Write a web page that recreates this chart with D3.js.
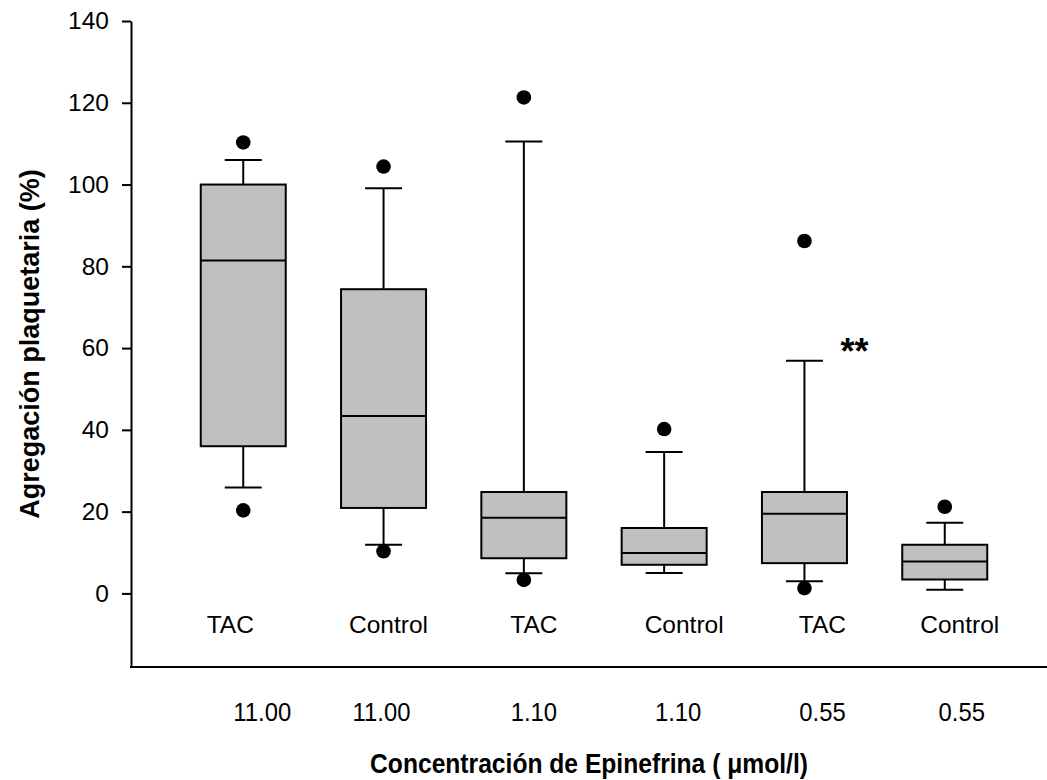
<!DOCTYPE html>
<html>
<head>
<meta charset="utf-8">
<script src="https://cdn.jsdelivr.net/npm/d3@7"></script>
<style>
  body { margin: 0; background: #fff; }
  svg text { font-family: "Liberation Sans", Arial, sans-serif; fill: #000; }
</style>
</head>
<body>
<script>
const width = 1047;
const height = 780;

// groups, left to right
const groups = ["TAC", "Control", "TAC", "Control", "TAC", "Control"];
const doses = ["11.00", "11.00", "1.10", "1.10", "0.55", "0.55"];

// box statistics (%)
const whiskerLow = [25.9, 11.9, 4.9, 5.0, 3.0, 0.9];
const q1 = [36.0, 20.9, 8.6, 7.0, 7.4, 3.4];
const median = [81.4, 43.4, 18.5, 9.9, 19.5, 7.8];
const q3 = [100.0, 74.4, 24.8, 16.0, 24.8, 11.9];
const whiskerHigh = [106.0, 99.1, 110.5, 34.6, 56.9, 17.3];
const outliersLow = [20.3, 10.3, 3.3, null, 1.3, null];
const outliersHigh = [110.3, 104.4, 121.3, 40.2, 86.2, 21.2];

const yTicks = [0, 20, 40, 60, 80, 100, 120, 140];

// small manual nudges of the text labels, as in the original figure
const groupNudge = [-13, 5, 10, 20, 18, 15];
const doseNudge = [19, -2, 10, 14, 18, 17];

const plotLeft = 131, plotTop = 21, plotBottom = 667;

let svg = d3.select("body")
    .append("svg")
    .attr("width", width)
    .attr("height", height);

let x = d3.scalePoint()
    .domain(d3.range(groups.length))
    .range([plotLeft, 1057])
    .padding(0.8);

let y = d3.scaleLinear()
    .domain([-18, 140])
    .range([plotBottom, plotTop]);

const boxW = 85;
const capW = 37;

// y axis
let yAxis = svg.append("g")
    .attr("transform", `translate(${plotLeft},0)`)
    .call(d3.axisLeft(y).tickValues(yTicks).tickSize(9).tickPadding(13).tickSizeOuter(0));
yAxis.select(".domain").attr("stroke-width", 2);
yAxis.selectAll(".tick line").attr("stroke-width", 2);
yAxis.selectAll("text").style("font-size", "24.5px");

// x axis line only
svg.append("line")
    .attr("x1", plotLeft - 1).attr("x2", width)
    .attr("y1", plotBottom).attr("y2", plotBottom)
    .attr("stroke", "#000").attr("stroke-width", 2);

let data = groups.map((g, i) => ({
    i: i,
    lo: whiskerLow[i], q1: q1[i], med: median[i], q3: q3[i], hi: whiskerHigh[i],
    oLo: outliersLow[i], oHi: outliersHigh[i]
}));

let box = svg.selectAll("g.box")
    .data(data)
    .join("g")
    .attr("class", "box");

// whiskers
box.append("line")
    .attr("x1", d => x(d.i)).attr("x2", d => x(d.i))
    .attr("y1", d => y(d.q3)).attr("y2", d => y(d.hi))
    .attr("stroke", "#000").attr("stroke-width", 2);
box.append("line")
    .attr("x1", d => x(d.i)).attr("x2", d => x(d.i))
    .attr("y1", d => y(d.q1)).attr("y2", d => y(d.lo))
    .attr("stroke", "#000").attr("stroke-width", 2);
box.append("line")
    .attr("x1", d => x(d.i) - capW / 2).attr("x2", d => x(d.i) + capW / 2)
    .attr("y1", d => y(d.hi)).attr("y2", d => y(d.hi))
    .attr("stroke", "#000").attr("stroke-width", 2);
box.append("line")
    .attr("x1", d => x(d.i) - capW / 2).attr("x2", d => x(d.i) + capW / 2)
    .attr("y1", d => y(d.lo)).attr("y2", d => y(d.lo))
    .attr("stroke", "#000").attr("stroke-width", 2);

// boxes
box.append("rect")
    .attr("x", d => x(d.i) - boxW / 2)
    .attr("width", boxW)
    .attr("y", d => y(d.q3))
    .attr("height", d => y(d.q1) - y(d.q3))
    .attr("fill", "#c0c0c0")
    .attr("stroke", "#000")
    .attr("stroke-width", 2);
box.append("line")
    .attr("x1", d => x(d.i) - boxW / 2).attr("x2", d => x(d.i) + boxW / 2)
    .attr("y1", d => y(d.med)).attr("y2", d => y(d.med))
    .attr("stroke", "#000").attr("stroke-width", 2);

// outliers
let outs = [];
data.forEach(d => {
    if (d.oLo != null) outs.push({ i: d.i, v: d.oLo });
    if (d.oHi != null) outs.push({ i: d.i, v: d.oHi });
});
svg.selectAll("circle.out")
    .data(outs)
    .join("circle")
    .attr("class", "out")
    .attr("cx", d => x(d.i))
    .attr("cy", d => y(d.v))
    .attr("r", 7.3)
    .attr("fill", "#000");

// group labels inside the plot
svg.selectAll("text.group")
    .data(groups)
    .join("text")
    .attr("class", "group")
    .attr("x", (d, i) => x(i) + groupNudge[i])
    .attr("y", 633)
    .attr("text-anchor", "middle")
    .style("font-size", "24.5px")
    .text(d => d);

// dose labels under the axis (slightly condensed in the original)
svg.selectAll("text.dose")
    .data(doses)
    .join("text")
    .attr("class", "dose")
    .attr("transform", (d, i) => `translate(${x(i) + doseNudge[i]},721) scale(0.9,1)`)
    .attr("text-anchor", "middle")
    .style("font-size", "26.5px")
    .text(d => d);

// significance mark
svg.append("text")
    .attr("x", x(4) + 36)
    .attr("y", y(56))
    .style("font-size", "36px")
    .style("font-weight", "bold")
    .text("**");

// axis titles
svg.append("text")
    .attr("transform", `translate(39,${(plotTop + plotBottom) / 2}) rotate(-90)`)
    .attr("text-anchor", "middle")
    .style("font-size", "27px")
    .style("font-weight", "bold")
    .text("Agregación plaquetaria (%)");

svg.append("text")
    .attr("transform", `translate(${(plotLeft + width) / 2},773) scale(0.88,1)`)
    .attr("text-anchor", "middle")
    .style("font-size", "28px")
    .style("font-weight", "bold")
    .text("Concentración de Epinefrina ( μmol/l)");
</script>
</body>
</html>
